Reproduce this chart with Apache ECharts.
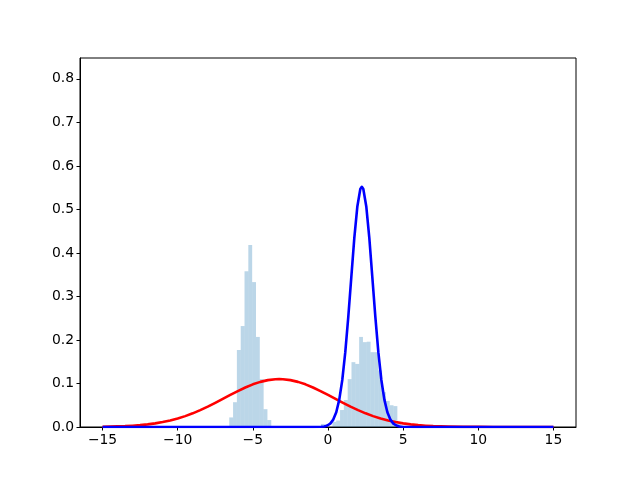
<!DOCTYPE html>
<html>
<head>
<meta charset="utf-8">
<script src="https://cdn.jsdelivr.net/npm/echarts@6/dist/echarts.min.js"></script>
<style>html,body{margin:0;padding:0;background:#fff}#c{width:640px;height:480px}</style>
</head>
<body>
<div id="c"></div>
<script>
// Histogram bin edges and density heights
var histEdges = [-6.571,-6.317,-6.063,-5.808,-5.554,-5.300,-5.046,-4.792,-4.537,-4.283,-4.029,-3.775,-3.521,-3.266,-3.012,-2.758,-2.504,-2.250,-1.995,-1.741,-1.487,-1.233,-0.979,-0.724,-0.470,-0.216,0.038,0.292,0.547,0.801,1.055,1.309,1.563,1.818,2.072,2.326,2.580,2.834,3.089,3.343,3.597,3.851,4.105,4.360,4.614,4.868];
var histHeights = [0.022,0.057,0.177,0.232,0.358,0.418,0.333,0.207,0.110,0.041,0.016,
  0,0,0,0,0,0,0,0,0,0,0,0,0,
  0.007,0,0,0.012,0.015,0.039,0.062,0.110,0.149,0.145,0.207,0.195,0.196,0.172,0.172,0.130,0.080,0.060,0.050,0.048,0.008];

// Red curve points
var redX = [-15,-14.5,-14,-13.5,-13,-12.5,-12,-11.5,-11,-10.5,-10,-9.5,-9,-8.5,-8,-7.5,-7,-6.5,-6,-5.5,-5,-4.5,-4,-3.5,-3.25,-3,-2.5,-2,-1.5,-1,-0.5,0,0.5,1,1.5,2,2.5,3,3.5,4,4.5,5,5.5,6,6.5,7,7.5,8,9,10,11,12,13,14,15];
var redY = [0.0006,0.0009,0.0014,0.0020,0.0030,0.0043,0.0060,0.0083,0.0113,0.0150,0.0195,0.0250,0.0314,0.0387,0.0467,0.0554,0.0645,0.0737,0.0826,0.0908,0.0980,0.1037,0.1077,0.1097,0.1100,0.1097,0.1077,0.1037,0.0980,0.0908,0.0826,0.0737,0.0645,0.0554,0.0467,0.0387,0.0314,0.0250,0.0195,0.0150,0.0113,0.0083,0.0060,0.0043,0.0030,0.0020,0.0014,0.0009,0.0004,0.0002,0.0001,0,0,0,0];

// Blue curve points
var blueX = [-15,-1,-0.45,-0.25,-0.05,0.15,0.35,0.55,0.75,0.95,1.15,1.35,1.55,1.75,1.95,2.15,2.25,2.35,2.55,2.75,2.95,3.15,3.35,3.55,3.75,3.95,4.15,4.35,4.55,4.75,4.95,6,15];
var blueY = [0,0,0.0005,0.0013,0.0034,0.0078,0.017,0.034,0.063,0.108,0.172,0.253,0.344,0.434,0.506,0.547,0.552,0.547,0.506,0.434,0.344,0.253,0.172,0.108,0.063,0.034,0.017,0.0078,0.0034,0.0013,0.0005,0,0];

// Tick labels
var xTicks = [-15,-10,-5,0,5,10,15];
var yTicks = [0,0.1,0.2,0.3,0.4,0.5,0.6,0.7,0.8];

var histData = [];
for (var i = 0; i < histHeights.length; i++) {
  if (histHeights[i] > 0) histData.push([histEdges[i], histEdges[i+1], histHeights[i]]);
}
function pairs(xs, ys){ var o=[]; for (var i=0;i<xs.length;i++) o.push([xs[i], ys[i]]); return o; }

var font = {fontFamily:'DejaVu Sans', fontSize:13.9, color:'#000'};
var chart = echarts.init(document.getElementById('c'), null, {renderer:'canvas'});
chart.setOption({
  animation:false,
  backgroundColor:'#fff',
  grid:{left:80, right:64, top:58, bottom:53, show:true, borderColor:'#000', borderWidth:1, containLabel:false},
  xAxis:{type:'value', min:-16.5, max:16.5,
    axisLine:{show:true, onZero:false, lineStyle:{color:'#000', width:1}},
    axisTick:{show:true, length:3.5, lineStyle:{color:'#000'}, customValues:xTicks},
    axisLabel:Object.assign({margin:6, customValues:xTicks, formatter:function(v){return String(v).replace('-','\u2212');}}, font),
    splitLine:{show:false}},
  yAxis:{type:'value', min:0, max:0.848,
    axisLine:{show:true, onZero:false, lineStyle:{color:'#000', width:1}},
    axisTick:{show:true, length:3.5, lineStyle:{color:'#000'}, customValues:yTicks},
    axisLabel:Object.assign({margin:6, customValues:yTicks, formatter:function(v){return v.toFixed(1);}}, font),
    splitLine:{show:false}},
  series:[
    {type:'custom', z:1, data:histData, encode:{x:[0,1], y:2},
      renderItem:function(params, api){
        var p0 = api.coord([api.value(0), api.value(2)]);
        var p1 = api.coord([api.value(1), 0]);
        return {type:'rect', shape:{x:p0[0], y:p0[1], width:p1[0]-p0[0], height:p1[1]-p0[1]},
          style:{fill:'rgba(31,119,180,0.3)'}};
      }},
    {type:'line', z:3, data:pairs(redX, redY), showSymbol:false, symbol:'none', smooth:false,
      lineStyle:{color:'#ff0000', width:2.6, join:'round'}},
    {type:'line', z:4, data:pairs(blueX, blueY), showSymbol:false, symbol:'none', smooth:false,
      lineStyle:{color:'#0000ff', width:2.6, join:'round'}}
  ]
});
</script>
</body>
</html>
